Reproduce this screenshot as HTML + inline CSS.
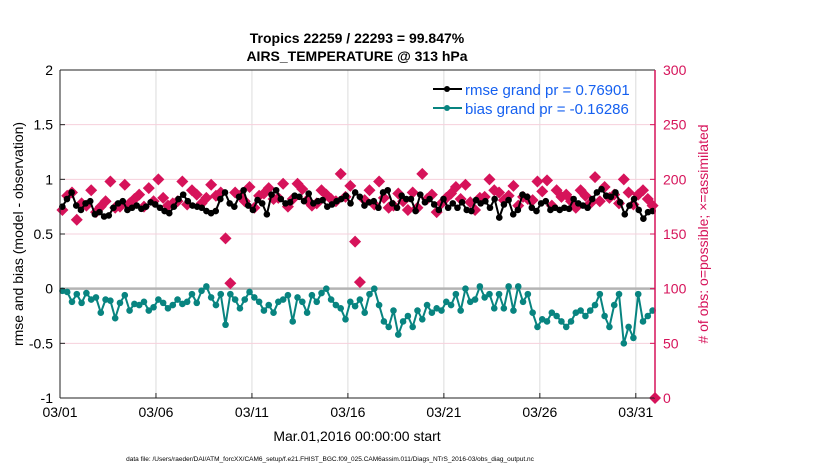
<!DOCTYPE html>
<html><head><meta charset="utf-8"><style>
body{margin:0;background:#fff;}
svg{display:block;font-family:"Liberation Sans",sans-serif;}
</style></head><body>
<svg id="chart" width="830" height="470">
<g id="grid"></g>
<g id="marks"></g>
<g id="axes"></g>
<text x="357" y="43" text-anchor="middle" font-size="14" font-weight="bold">Tropics 22259 / 22293 = 99.847%</text>
<text x="357" y="61" text-anchor="middle" font-size="14" font-weight="bold">AIRS_TEMPERATURE @ 313 hPa</text>
<text x="357" y="441" text-anchor="middle" font-size="14">Mar.01,2016 00:00:00 start</text>
<text transform="translate(23,234) rotate(-90)" text-anchor="middle" font-size="14">rmse and bias (model - observation)</text>
<text transform="translate(708,234) rotate(-90)" text-anchor="middle" font-size="14" fill="#d6135a"># of obs: o=possible; ×=assimilated</text>
<text x="330" y="461" text-anchor="middle" font-size="6.5">data file: /Users/raeder/DAI/ATM_forcXX/CAM6_setup/f.e21.FHIST_BGC.f09_025.CAM6assim.011/Diags_NTrS_2016-03/obs_diag_output.nc</text>
<g>
<line x1="433" y1="89" x2="462" y2="89" stroke="#000" stroke-width="2"/><circle cx="447" cy="89" r="3" fill="#000"/>
<text x="465" y="95" font-size="15" fill="#1560f0">rmse grand pr = 0.76901</text>
<line x1="433" y1="108" x2="462" y2="108" stroke="#088480" stroke-width="2"/><circle cx="447" cy="108" r="3" fill="#088480"/>
<text x="465" y="114" font-size="15" fill="#1560f0">bias grand pr = -0.16286</text>
</g>
</svg>
<script>
const rmse=[0.75,0.82,0.88,0.76,0.72,0.78,0.8,0.68,0.7,0.66,0.67,0.74,0.78,0.8,0.72,0.74,0.76,0.73,0.75,0.79,0.77,0.74,0.71,0.69,0.75,0.82,0.86,0.8,0.76,0.75,0.74,0.71,0.69,0.71,0.82,0.88,0.78,0.75,0.84,0.9,0.76,0.72,0.81,0.78,0.68,0.86,0.9,0.82,0.78,0.79,0.85,0.84,0.8,0.87,0.78,0.8,0.81,0.75,0.77,0.8,0.82,0.85,0.78,0.88,0.84,0.76,0.79,0.8,0.74,0.88,0.9,0.78,0.74,0.85,0.82,0.82,0.71,0.86,0.79,0.82,0.77,0.72,0.82,0.74,0.78,0.74,0.79,0.72,0.71,0.81,0.78,0.8,0.74,0.82,0.65,0.77,0.81,0.68,0.72,0.86,0.84,0.74,0.71,0.78,0.8,0.72,0.74,0.72,0.74,0.73,0.82,0.78,0.76,0.74,0.82,0.88,0.91,0.85,0.84,0.88,0.79,0.68,0.76,0.82,0.72,0.64,0.7,0.71];
const bias=[-0.02,-0.03,-0.12,-0.05,-0.13,-0.04,-0.1,-0.08,-0.22,-0.1,-0.11,-0.27,-0.13,-0.06,-0.2,-0.14,-0.15,-0.12,-0.2,-0.17,-0.1,-0.13,-0.18,-0.15,-0.1,-0.14,-0.12,-0.05,-0.13,-0.02,0.02,-0.08,
-0.15,-0.05,-0.33,-0.05,-0.1,-0.18,-0.1,-0.03,-0.08,-0.12,-0.2,-0.15,-0.22,-0.12,-0.1,-0.06,-0.3,-0.08,-0.12,-0.22,-0.06,-0.12,-0.04,0.0,-0.1,-0.15,-0.18,-0.28,-0.12,-0.16,-0.1,-0.22,-0.05,0.0,
-0.15,-0.3,-0.35,-0.2,-0.42,-0.3,-0.25,-0.35,-0.2,-0.28,-0.15,-0.22,-0.18,-0.2,-0.12,-0.15,-0.05,-0.2,0.0,-0.12,-0.1,0.02,-0.08,-0.05,-0.18,
-0.05,-0.18,0.02,-0.2,0.02,-0.12,-0.05,-0.22,-0.35,-0.28,-0.3,-0.22,-0.25,-0.3,-0.35,-0.3,-0.22,-0.2,-0.25,-0.2,-0.15,-0.05,-0.25,-0.35,-0.15,-0.05,-0.5,-0.35,-0.45,-0.05,-0.3,-0.25,-0.2];
const obs=[172,185,188,163,178,176,190,170,175,180,198,174,175,195,178,182,186,175,192,180,200,183,176,178,180,198,177,190,186,178,183,195,185,188,
146,105,
188,185,180,193,174,185,187,192,182,183,196,175,182,196,191,181,176,178,190,186,182,180,205,184,194,
143,106,
181,190,177,198,183,174,176,187,180,172,188,174,205,182,186,170,178,183,187,193,182,195,179,172,183,184,200,190,188,181,185,194,176,184,182,181,198,189,199,176,190,184,186,180,174,190,185,178,202,180,193,183,186,178,200,188,177,186,190,182,176];
const xTicks=["03/01","03/06","03/11","03/16","03/21","03/26","03/31"];
const yTicks=["-1","-0.5","0","0.5","1","1.5","2"];
const y2Ticks=["0","50","100","150","200","250","300"];

const NS="http://www.w3.org/2000/svg";
const X0=60,X1=655,Y0=398,Y1=70,DAYS=31;
function xs(d){return X0+(d/DAYS)*(X1-X0);}
function ys(v){return Y0-(v+1)/3*(Y0-Y1);}
function ys2(v){return Y0-v/300*(Y0-Y1);}
function mk(tag,attrs,parent){const e=document.createElementNS(NS,tag);for(const k in attrs)e.setAttribute(k,attrs[k]);parent.appendChild(e);return e;}
const grid=document.getElementById('grid'),marks=document.getElementById('marks'),axes=document.getElementById('axes');
mk('rect',{x:X0,y:Y1,width:X1-X0,height:Y0-Y1,fill:'#fff'},grid);
xTicks.forEach((t,i)=>{const x=xs(i*5);
 const l=mk('line',{x1:x,y1:Y1,x2:x,y2:Y0,stroke:'#dcdcdc','stroke-width':1},grid);
 
 
 mk('line',{x1:x,y1:Y0,x2:x,y2:Y0-5,stroke:'#222'},axes);
 const tx=mk('text',{x:x,y:Y0+19,'text-anchor':'middle','font-size':14},axes);tx.textContent=t;
 
 
});
yTicks.forEach((t,i)=>{const v=+t,y=ys(v);
 if(v>-1&&v<2&&v!==0){const l=mk('line',{x1:X0,y1:y,x2:X1,y2:y,stroke:'#f6d0dc','stroke-width':1},grid);
 
 }
 mk('line',{x1:X0,y1:y,x2:X0+5,y2:y,stroke:'#222'},axes);
 const tx=mk('text',{x:X0-7,y:y+5,'text-anchor':'end','font-size':14},axes);tx.textContent=t;
 
 
});
y2Ticks.forEach(t=>{const y=ys2(+t);
 mk('line',{x1:X1,y1:y,x2:X1-5,y2:y,stroke:'#d6135a'},axes);
 const tx=mk('text',{x:X1+8,y:y+5,'font-size':14,fill:'#d6135a'},axes);tx.textContent=t;
 
 
});
const zl=mk('line',{x1:X0,y1:ys(0),x2:X1,y2:ys(0),stroke:'#b4b4b4','stroke-width':2.5},grid);


function series(arr,color,name){
 const step=DAYS/arr.length;
 const pts=arr.map((v,i)=>xs((i+0.5)*step).toFixed(1)+','+ys(v).toFixed(1)).join(' ');
 const pl=mk('polyline',{points:pts,fill:'none',stroke:color,'stroke-width':2},marks);
 
 
 arr.forEach((v,i)=>{const c=mk('circle',{cx:xs((i+0.5)*step),cy:ys(v),r:3.3,fill:color},marks);
  
  });
}
const ostep=DAYS/obs.length;
obs.forEach((v,i)=>{const x=xs((i+0.5)*ostep),y=ys2(v),s=6;
 const p=mk('polygon',{points:`${x},${y-s} ${x+s},${y} ${x},${y+s} ${x-s},${y}`,fill:'#d6135a'},marks);
 
 });
series(rmse,'#000','rmse');
series(bias,'#088480','bias');
const ed=mk('polygon',{points:`${X1},${Y0-6} ${X1+6},${Y0} ${X1},${Y0+6} ${X1-6},${Y0}`,fill:'#d6135a'},marks);


mk('line',{x1:X0,y1:Y1,x2:X0,y2:Y0,stroke:'#222','stroke-width':1},axes);
mk('line',{x1:X0,y1:Y0,x2:X1,y2:Y0,stroke:'#222','stroke-width':1},axes);
mk('line',{x1:X0,y1:Y1,x2:X1,y2:Y1,stroke:'#222','stroke-width':1},axes);
mk('line',{x1:X1,y1:Y1,x2:X1,y2:Y0,stroke:'#d6135a','stroke-width':1.5},axes);
</script>
</body></html>
